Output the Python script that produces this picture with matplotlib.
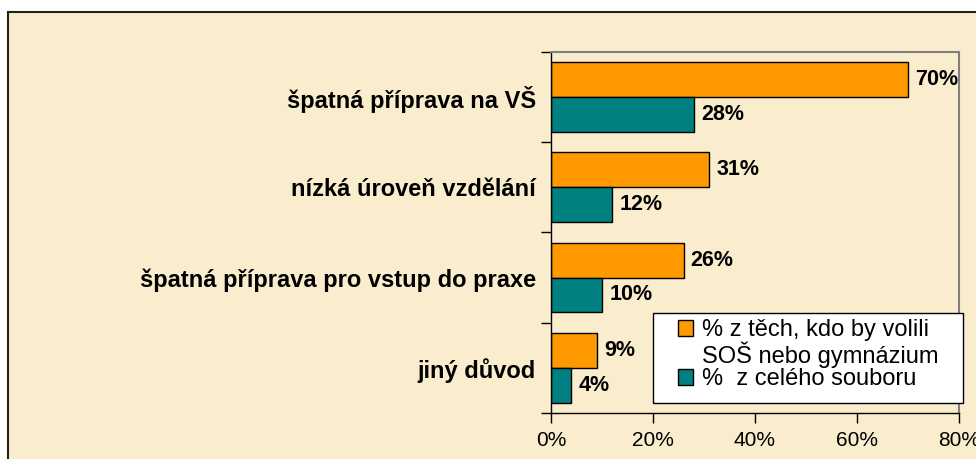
import matplotlib.pyplot as plt
import numpy as np
from matplotlib.patches import Rectangle, Patch

plt.rcParams['font.family'] = ['Liberation Sans', 'DejaVu Sans']

categories = ["špatná příprava na VŠ", "nízká úroveň vzdělání",
              "špatná příprava pro vstup do praxe", "jiný důvod"]
share_chosen = [70, 31, 26, 9]   # % z těch, kdo by volili SOŠ nebo gymnázium
share_all = [28, 12, 10, 4]      # % z celého souboru
x_ticks = [0, 20, 40, 60, 80]

orange = "#FF9900"
teal = "#008080"
parchment = "#FAEDCD"

W, H = 976, 459
fig = plt.figure(figsize=(W / 100, H / 100), dpi=100)
fig.patch.set_facecolor("white")
# chart area frame (runs off the right and bottom edge)
fig.patches.append(Rectangle((8 / W, -0.05), 1.1, (H - 12) / H + 0.05,
                             transform=fig.transFigure, facecolor=parchment,
                             edgecolor="#222222", linewidth=1.5, zorder=-10))

ax = fig.add_axes([551 / W, 1 - 413 / H, (959 - 551) / W, (413 - 51.7) / H])
ax.set_facecolor("none")

y = np.arange(len(categories))
h = 0.385
ax.barh(y - h / 2, share_chosen, height=h, color=orange, edgecolor="black", linewidth=1)
ax.barh(y + h / 2, share_all, height=h, color=teal, edgecolor="black", linewidth=1)

for i in range(len(categories)):
    ax.text(share_chosen[i] + 1.4, y[i] - h / 2, f"{share_chosen[i]}%", va="center", ha="left",
            fontsize=15.5, fontweight="bold")
    ax.text(share_all[i] + 1.4, y[i] + h / 2, f"{share_all[i]}%", va="center", ha="left",
            fontsize=15.5, fontweight="bold")

ax.set_xlim(0, 80)
ax.set_ylim(len(categories) - 0.5, -0.5)
ax.set_xticks(x_ticks)
ax.set_xticklabels([f"{t}%" for t in x_ticks], fontsize=15)

# category labels centred, ticks on the boundaries
ax.set_yticks(np.arange(len(categories) + 1) - 0.5)
ax.set_yticklabels([])
ax.set_yticks(y, minor=True)
ax.set_yticklabels(categories, minor=True, fontsize=17, fontweight="bold")
ax.tick_params(axis="y", which="minor", length=0, pad=11)
ax.tick_params(axis="y", which="major", length=7, width=1, direction="out")
ax.tick_params(axis="x", length=7, width=1, direction="out", pad=6)

for s in ["top", "right"]:
    ax.spines[s].set_color("#808080")
    ax.spines[s].set_linewidth(1.5)
for s in ["left", "bottom"]:
    ax.spines[s].set_color("black")
    ax.spines[s].set_linewidth(1)

# legend box
fig.patches.append(Rectangle((653 / W, 1 - 403 / H), (963 - 653) / W, 90 / H,
                             transform=fig.transFigure, facecolor="white",
                             edgecolor="black", linewidth=1, zorder=5))
handles = [Patch(facecolor=orange, edgecolor="black"),
           Patch(facecolor="none", edgecolor="none"),
           Patch(facecolor=teal, edgecolor="black")]
labels = ["% z těch, kdo by volili", "SOŠ nebo gymnázium", "%  z celého souboru"]
leg = fig.legend(handles, labels, loc="upper left", bbox_to_anchor=(678 / W, 1 - 319 / H),
                 fontsize=17, frameon=False, handlelength=0.65, handleheight=0.65,
                 handletextpad=0.38, labelspacing=0.02, borderpad=0, borderaxespad=0)
leg.set_zorder(6)

fig.savefig("out.png", dpi=100)
